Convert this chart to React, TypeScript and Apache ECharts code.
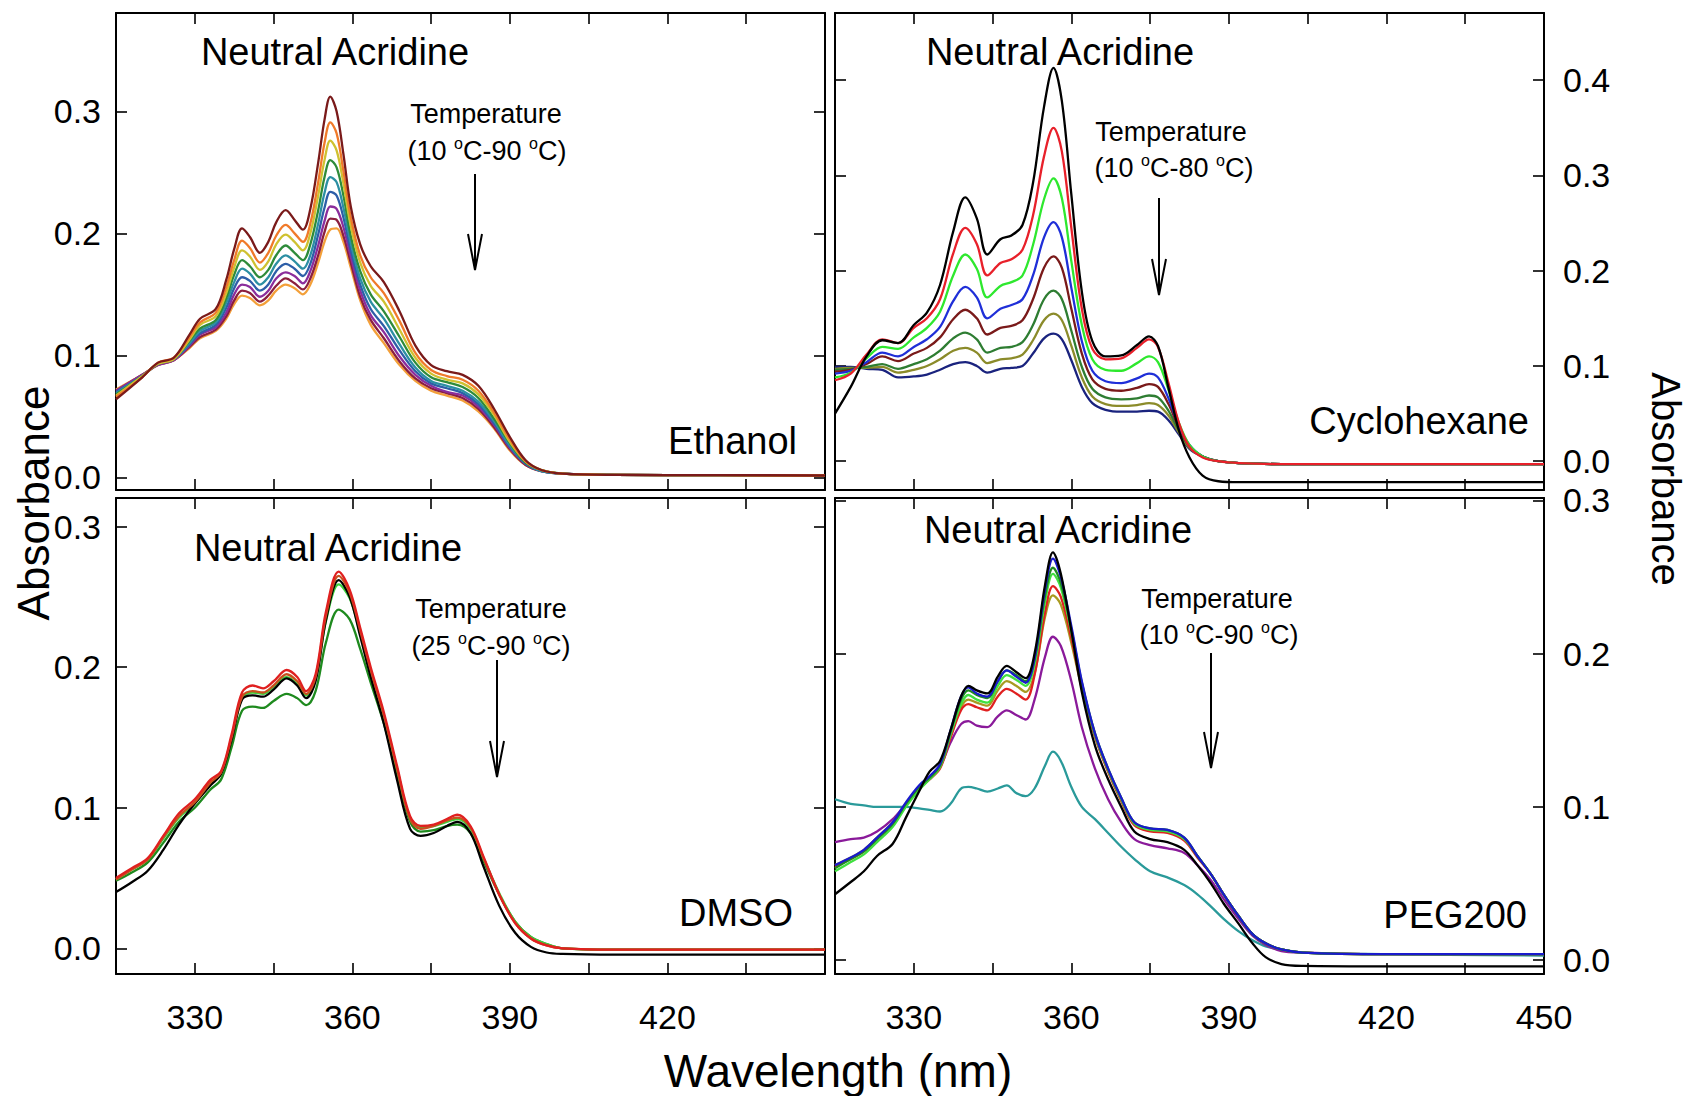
import React, { useEffect, useRef } from 'react';
import * as echarts from 'echarts';

const FONT = '"Liberation Sans", Arial, Helvetica, sans-serif';

// ---------- Ethanol (top-left) ----------
const ethanolWl = [315,320,323,326,329,331,334,336,337.5,339,340.5,342.4,344,345.5,347.3,349,350.6,352,353.5,354.7,355.8,357,358.3,359.7,361.5,363.5,366,369,372,375,378,381,384,387,390,393,396,400,410,430,450];
const eth1 = [.064,.082,.094,.098,.117,.130,.138,.162,.187,.204,.197,.184,.193,.209,.219,.211,.203,.220,.258,.293,.312,.300,.265,.222,.191,.173,.160,.136,.108,.092,.087,.084,.075,.056,.033,.014,.006,.003,.002,.0018,.0015];
const eth2 = [.066,.082,.094,.098,.115,.127,.135,.156,.178,.194,.188,.176,.184,.198,.207,.200,.193,.208,.242,.274,.291,.282,.251,.213,.182,.164,.151,.128,.102,.088,.083,.080,.071,.053,.031,.013,.006,.003,.002,.0018,.0015];
const eth3 = [.067,.083,.093,.097,.113,.125,.132,.151,.172,.186,.181,.170,.177,.191,.199,.193,.186,.200,.231,.260,.276,.268,.241,.206,.176,.157,.144,.121,.098,.085,.080,.077,.068,.051,.029,.013,.006,.003,.002,.0018,.0015];
const eth4 = [.068,.083,.093,.097,.112,.122,.129,.147,.166,.178,.173,.164,.170,.182,.190,.184,.178,.191,.219,.246,.260,.254,.231,.198,.169,.150,.136,.115,.094,.082,.078,.074,.065,.048,.028,.012,.006,.003,.002,.0018,.0015];
const eth5 = [.069,.083,.093,.097,.110,.120,.127,.143,.160,.171,.167,.158,.164,.175,.182,.177,.171,.182,.208,.233,.246,.242,.221,.192,.163,.144,.130,.109,.090,.079,.075,.071,.062,.046,.026,.012,.005,.003,.002,.0018,.0015];
const eth6 = [.070,.083,.093,.097,.109,.118,.125,.139,.155,.164,.161,.153,.158,.169,.175,.171,.165,.175,.199,.221,.234,.231,.213,.186,.158,.138,.124,.104,.087,.077,.073,.069,.060,.044,.025,.011,.005,.003,.002,.0018,.0015];
const eth7 = [.071,.084,.092,.096,.108,.117,.123,.135,.150,.158,.156,.148,.153,.163,.168,.165,.159,.169,.190,.210,.222,.220,.205,.181,.153,.133,.119,.099,.084,.075,.070,.067,.058,.043,.024,.011,.005,.003,.002,.0018,.0015];
const eth8 = [.071,.084,.092,.096,.107,.115,.121,.132,.145,.153,.151,.144,.149,.157,.163,.159,.154,.163,.182,.201,.212,.211,.198,.176,.148,.129,.114,.095,.081,.073,.069,.065,.056,.041,.023,.010,.005,.003,.002,.0018,.0015];
const eth9 = [.072,.084,.092,.096,.106,.114,.120,.130,.142,.149,.147,.141,.145,.153,.158,.155,.150,.158,.176,.193,.203,.204,.193,.172,.145,.125,.110,.092,.079,.071,.067,.063,.054,.040,.022,.010,.005,.003,.002,.0018,.0015];
const ethanolColors = ['#7a1a1a','#f07a2a','#cfc130','#2e8b3a','#2c8fa3','#2d5ea8','#8b2d9c','#8b1f3f','#f3a03a'];

// ---------- Cyclohexane (top-right) ----------
const cycloWl = [315,318,321,324,327,330,332.5,335,337.5,339.8,342,344,346.5,348.6,350.7,352.7,354.8,356.6,358.2,360,362,364,366.5,369.5,372.5,374.8,376.5,378.5,380.5,382.5,385,388,392,400,420,450];
const cyc1 = [.050,.078,.110,.127,.124,.143,.156,.185,.241,.277,.255,.217,.233,.237,.248,.292,.372,.413,.378,.280,.178,.126,.110,.111,.122,.131,.121,.077,.032,.004,-.015,-.021,-.022,-.022,-.022,-.022];
const cyc2 = [.085,.092,.112,.128,.124,.140,.150,.170,.218,.245,.228,.195,.208,.212,.222,.258,.320,.350,.325,.245,.160,.118,.107,.108,.119,.128,.120,.082,.040,.015,.004,.000,-.002,-.003,-.003,-.003];
const cyc3 = [.088,.093,.108,.120,.118,.130,.140,.157,.195,.217,.202,.172,.184,.188,.195,.227,.275,.297,.276,.210,.143,.107,.096,.095,.103,.110,.104,.075,.040,.017,.005,.000,-.002,-.003,-.003,-.003];
const cyc4 = [.092,.095,.104,.114,.110,.120,.128,.141,.168,.183,.172,.150,.160,.164,.170,.195,.235,.251,.235,.182,.126,.095,.084,.082,.087,.092,.088,.066,.037,.017,.005,.000,-.002,-.003,-.003,-.003];
const cyc5 = [.094,.096,.102,.110,.105,.113,.119,.130,.149,.159,.150,.133,.140,.142,.148,.170,.203,.215,.203,.160,.113,.086,.076,.074,.077,.081,.078,.060,.035,.016,.005,.000,-.002,-.003,-.003,-.003];
const cyc6 = [.096,.097,.099,.102,.097,.102,.107,.116,.129,.135,.128,.114,.119,.120,.125,.143,.170,.179,.170,.137,.099,.076,.067,.065,.066,.069,.067,.053,.032,.015,.005,.000,-.002,-.003,-.003,-.003];
const cyc7 = [.097,.098,.098,.099,.093,.096,.100,.107,.116,.119,.114,.103,.107,.108,.112,.127,.148,.155,.148,.121,.088,.068,.060,.058,.059,.061,.059,.048,.030,.014,.005,.000,-.002,-.003,-.003,-.003];
const cyc8 = [.099,.099,.097,.096,.088,.089,.091,.096,.102,.104,.100,.093,.097,.098,.100,.113,.129,.134,.128,.106,.078,.061,.054,.052,.052,.053,.052,.043,.028,.013,.005,.000,-.002,-.003,-.003,-.003];
const cycloColors = ['#000000','#e8202a','#2ee82e','#1f2fd8','#7a1a1a','#2e7d32','#8b8b2a','#1a237e'];

// ---------- DMSO (bottom-left) ----------
const dmsoWl = [315,318,321,324,327,330,333,335,337,339,341,343,345,347.5,349.5,351.2,353,355,357.4,359.5,361.5,363.5,366,368.5,371,373,375.5,378,380,382.5,385,388,391,394,397,400,410,430,450];
const dms1 = [.050,.057,.064,.080,.096,.106,.120,.126,.152,.182,.187,.185,.190,.198,.193,.183,.195,.240,.268,.255,.228,.200,.168,.130,.094,.087,.088,.092,.095,.087,.065,.038,.018,.007,.002,.000,-.001,-.001,-.001];
const dms2 = [.049,.056,.063,.079,.094,.104,.118,.125,.150,.179,.183,.182,.187,.195,.190,.181,.193,.237,.265,.253,.226,.198,.166,.128,.092,.085,.087,.091,.093,.086,.064,.038,.018,.007,.002,.000,-.001,-.001,-.001];
const dms3 = [.040,.047,.055,.070,.088,.103,.116,.124,.148,.177,.180,.179,.184,.192,.187,.178,.190,.234,.262,.250,.222,.193,.160,.120,.085,.080,.082,.087,.090,.082,.058,.030,.011,.001,-.003,-.004,-.0045,-.0045,-.0045];
const dms4 = [.049,.056,.063,.078,.093,.103,.117,.124,.149,.178,.182,.181,.186,.193,.188,.180,.192,.233,.259,.249,.224,.197,.165,.128,.092,.086,.087,.090,.092,.085,.064,.039,.019,.008,.003,.000,-.001,-.001,-.001];
const dms5 = [.048,.054,.061,.075,.090,.100,.113,.120,.143,.169,.172,.171,.176,.181,.178,.173,.183,.218,.241,.234,.213,.189,.160,.125,.090,.083,.084,.087,.088,.082,.062,.038,.019,.008,.003,.000,-.001,-.001,-.001];
const dmsoColors = ['#e02020','#c8501e','#000000','#3dd13d','#1e8a1e'];

// ---------- PEG200 (bottom-right) ----------
const pegWl = [315,318,320.5,323,326,328.5,331,333,335,337,339,340.4,342,344,346,347.7,349.5,351.3,353,355,356.5,358,360,362,364.5,367,369.5,372,375,378.3,381.5,384,386.6,389,391.8,394.5,397,400,404,420,450];
const peg1 = [.043,.051,.058,.068,.076,.093,.110,.123,.130,.150,.172,.179,.176,.174,.185,.192,.188,.184,.200,.245,.266,.252,.215,.175,.140,.118,.100,.084,.079,.077,.072,.062,.050,.037,.024,.011,.002,-.0025,-.0037,-.004,-.004];
const peg2 = [.062,.067,.072,.080,.090,.103,.114,.120,.128,.150,.172,.178,.174,.172,.182,.189,.185,.181,.197,.242,.262,.250,.218,.182,.148,.125,.106,.090,.086,.085,.080,.068,.056,.043,.029,.017,.011,.007,.005,.004,.004];
const peg3 = [.060,.066,.071,.079,.089,.102,.113,.119,.127,.149,.170,.176,.173,.171,.182,.189,.186,.182,.196,.238,.256,.246,.216,.181,.148,.125,.106,.090,.086,.085,.080,.068,.056,.043,.029,.017,.011,.007,.005,.004,.004];
const peg4 = [.058,.064,.069,.077,.087,.100,.111,.118,.126,.147,.167,.173,.170,.168,.179,.186,.183,.179,.193,.234,.252,.243,.214,.180,.147,.124,.105,.089,.085,.084,.079,.068,.056,.043,.029,.017,.011,.007,.005,.004,.004];
const peg5 = [.061,.066,.071,.079,.089,.101,.112,.118,.125,.145,.163,.167,.165,.163,.172,.177,.174,.170,.186,.227,.244,.237,.210,.178,.146,.123,.104,.088,.084,.083,.078,.067,.056,.043,.029,.017,.011,.007,.005,.004,.004];
const peg6 = [.062,.067,.072,.080,.090,.102,.113,.119,.126,.146,.165,.170,.168,.166,.176,.182,.179,.175,.187,.224,.238,.232,.207,.177,.146,.123,.104,.089,.085,.084,.079,.068,.056,.043,.029,.017,.011,.007,.005,.004,.004];
const peg7 = [.077,.079,.080,.084,.092,.102,.112,.118,.126,.142,.154,.156,.153,.152,.159,.163,.160,.157,.170,.198,.211,.205,.182,.152,.125,.105,.090,.079,.075,.073,.070,.062,.052,.040,.027,.016,.010,.006,.005,.004,.004];
const peg8 = [.105,.102,.101,.100,.100,.100,.099,.098,.097,.102,.112,.113,.112,.110,.112,.114,.109,.107,.112,.127,.136,.130,.113,.100,.092,.083,.074,.066,.058,.054,.049,.043,.035,.027,.019,.013,.009,.007,.005,.004,.003];
const pegColors = ['#000000','#1a1acc','#1f8a1f','#40e040','#e02020','#a89a20','#8a1a9a','#2a9a9a'];

// ---------- axes ----------
const xLabelsLeft = [330, 360, 390, 420];
const xLabelsRight = [330, 360, 390, 420, 450];
const xTicks = [330, 345, 360, 375, 390, 405, 420, 435];
const yTicksEthanol = [0, 0.1, 0.2, 0.3];
const yTicksCyclo = [0, 0.1, 0.2, 0.3, 0.4];
const yTicksDmso = [0, 0.1, 0.2, 0.3];
const yTicksPeg = [0, 0.1, 0.2, 0.3];

const panels = [
  { name: 'Ethanol', wl: ethanolWl, curves: [eth1, eth2, eth3, eth4, eth5, eth6, eth7, eth8, eth9], colors: ethanolColors,
    grid: { left: 116, top: 13, width: 709, height: 477 }, yMin: -0.0104, yMax: 0.3806, yTicks: yTicksEthanol,
    labelSide: 'left', showX: false, xLabels: xLabelsLeft },
  { name: 'Cyclohexane', wl: cycloWl, curves: [cyc1, cyc2, cyc3, cyc4, cyc5, cyc6, cyc7, cyc8], colors: cycloColors,
    grid: { left: 835, top: 13, width: 709, height: 477 }, yMin: -0.0302, yMax: 0.4705, yTicks: yTicksCyclo,
    labelSide: 'right', showX: false, xLabels: xLabelsRight },
  { name: 'DMSO', wl: dmsoWl, curves: [dms1, dms2, dms3, dms4, dms5], colors: dmsoColors,
    grid: { left: 116, top: 498, width: 709, height: 476 }, yMin: -0.0183, yMax: 0.3204, yTicks: yTicksDmso,
    labelSide: 'left', showX: true, xLabels: xLabelsLeft },
  { name: 'PEG200', wl: pegWl, curves: [peg1, peg2, peg3, peg4, peg5, peg6, peg7, peg8], colors: pegColors,
    grid: { left: 835, top: 498, width: 709, height: 476 }, yMin: -0.009, yMax: 0.3015, yTicks: yTicksPeg,
    labelSide: 'right', showX: true, xLabels: xLabelsRight },
];

const lineStyleAxis = { color: '#000', width: 2 };
const tickStyle = { color: '#000', width: 1.6 };

function buildOption() {
  const grid: any[] = [];
  const xAxis: any[] = [];
  const yAxis: any[] = [];
  const series: any[] = [];
  panels.forEach((p, i) => {
    grid.push({ ...p.grid, containLabel: false });
    const xBase = {
      type: 'value', gridIndex: i, min: 315, max: 450, interval: 15,
      axisLine: { show: true, onZero: false, lineStyle: lineStyleAxis },
      axisTick: { show: true, inside: true, length: 11, lineStyle: tickStyle, customValues: xTicks },
      splitLine: { show: false },
    };
    xAxis.push({ ...xBase, position: 'bottom',
      axisLabel: { show: p.showX, customValues: p.xLabels, fontSize: 34, color: '#000', margin: 26, fontFamily: FONT } });
    xAxis.push({ ...xBase, position: 'top', axisLabel: { show: false } });
    const yBase = {
      type: 'value', gridIndex: i, min: p.yMin, max: p.yMax,
      axisLine: { show: true, onZero: false, lineStyle: lineStyleAxis },
      axisTick: { show: true, inside: true, length: 11, lineStyle: tickStyle, customValues: p.yTicks },
      splitLine: { show: false },
    };
    const left = p.labelSide === 'left';
    yAxis.push({ ...yBase, position: p.labelSide,
      axisLabel: { show: true, customValues: p.yTicks, formatter: (v: number) => v.toFixed(1),
        fontSize: 34, color: '#000', margin: left ? 15 : 19, fontFamily: FONT } });
    yAxis.push({ ...yBase, position: left ? 'right' : 'left', axisLabel: { show: false } });
    p.curves.forEach((c, k) => {
      series.push({
        type: 'line', xAxisIndex: 2 * i, yAxisIndex: 2 * i,
        data: p.wl.map((w, j) => [w, c[j]]),
        showSymbol: false, symbol: 'none', smooth: 0.35, silent: true,
        lineStyle: { width: 2.3, color: p.colors[k] }, itemStyle: { color: p.colors[k] },
        z: 2 + (p.curves.length - k),
      });
    });
  });

  const txt = (x: number, y: number, text: string, fontSize: number, align = 'center', extra: any = {}) => ({
    type: 'text', x, y, z: 100,
    style: { text, fontSize, fontFamily: FONT, fill: '#000', align, textAlign: align,
      verticalAlign: 'middle', textVerticalAlign: 'middle', ...extra },
  });
  const supTxt = (x: number, y: number, a: string, b: string) => txt(x, y,
    `(${a} {s|o}C-${b} {s|o}C)`, 27, 'center',
    { lineHeight: 32, rich: { s: { fontSize: 16, lineHeight: 15, verticalAlign: 'top', fontFamily: FONT, fill: '#000' } } });
  const arrow = (x: number, y1: number, y2: number) => ([
    { type: 'line', z: 100, shape: { x1: x, y1, x2: x, y2 }, style: { stroke: '#000', lineWidth: 2 } },
    { type: 'polyline', z: 100, shape: { points: [[x - 7, y2 - 36], [x, y2], [x + 7, y2 - 36]] },
      style: { stroke: '#000', lineWidth: 2, fill: null } },
  ]);

  const graphic: any[] = [
    txt(335, 52, 'Neutral Acridine', 38),
    txt(486, 114, 'Temperature', 27),
    supTxt(487, 151, '10', '90'),
    ...arrow(475, 174, 270),
    txt(797, 441, 'Ethanol', 38, 'right'),

    txt(1060, 52, 'Neutral Acridine', 38),
    txt(1171, 132, 'Temperature', 27),
    supTxt(1174, 168, '10', '80'),
    ...arrow(1159, 198, 295),
    txt(1529, 421, 'Cyclohexane', 38, 'right'),

    txt(328, 548, 'Neutral Acridine', 38),
    txt(491, 609, 'Temperature', 27),
    supTxt(491, 646, '25', '90'),
    ...arrow(497, 660, 777),
    txt(793, 913, 'DMSO', 38, 'right'),

    txt(1058, 530, 'Neutral Acridine', 38),
    txt(1217, 599, 'Temperature', 27),
    supTxt(1219, 635, '10', '90'),
    ...arrow(1211, 653, 768),
    txt(1527, 915, 'PEG200', 38, 'right'),

    { ...txt(33, 503, 'Absorbance', 44), rotation: Math.PI / 2 },
    { ...txt(1666, 479, 'Absorbance', 40), rotation: -Math.PI / 2 },
    txt(838, 1071, 'Wavelength (nm)', 46),
  ];

  return {
    animation: false,
    backgroundColor: '#ffffff',
    textStyle: { fontFamily: FONT },
    grid, xAxis, yAxis, series, graphic,
  };
}

export default function App() {
  const ref = useRef<HTMLDivElement>(null);
  useEffect(() => {
    if (!ref.current) return;
    const chart = echarts.init(ref.current, null, { renderer: 'svg' });
    chart.setOption(buildOption() as any);
    return () => chart.dispose();
  }, []);
  return (
    <div
      ref={ref}
      style={{ position: 'absolute', left: 0, top: 0, width: 1688, height: 1096, background: '#fff' }}
    />
  );
}
